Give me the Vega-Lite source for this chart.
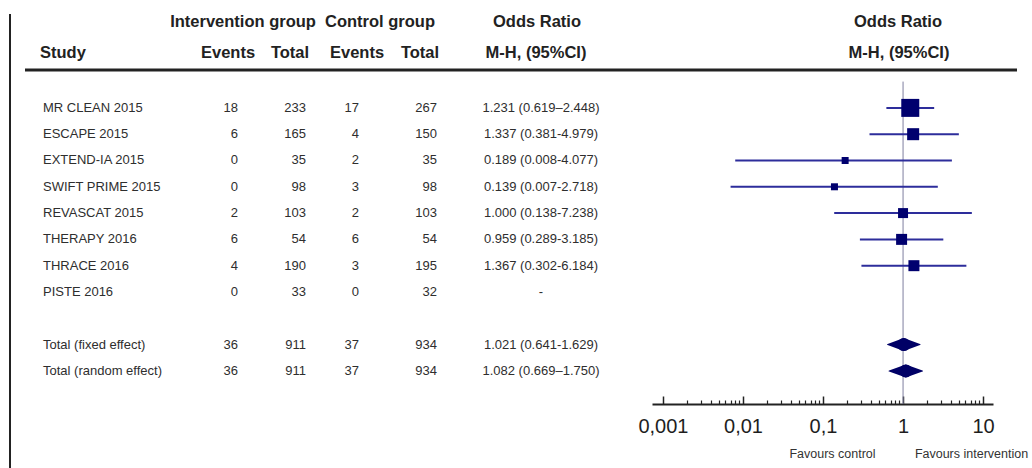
{
  "$schema": "https://vega.github.io/schema/vega-lite/v6.json",
  "width": 1032,
  "height": 404,
  "autosize": {"type": "none"},
  "padding": {"left": 0, "top": 0, "right": 0, "bottom": 64},
  "background": "white",
  "config": {
    "view": {"stroke": null},
    "axis": {"grid": false},
    "font": "Liberation Sans",
    "text": {"font": "Liberation Sans"}
  },
  "datasets": {
    "studies": [
      {"study": "MR CLEAN 2015", "ie": 18, "it": 233, "ce": 17, "ct": 267, "ci": "1.231 (0.619–2.448)", "or": 1.231, "lo": 0.619, "hi": 2.448, "w": 35.7, "kind": "study"},
      {"study": "ESCAPE 2015", "ie": 6, "it": 165, "ce": 4, "ct": 150, "ci": "1.337 (0.381-4.979)", "or": 1.337, "lo": 0.381, "hi": 4.979, "w": 15.9, "kind": "study"},
      {"study": "EXTEND-IA 2015", "ie": 0, "it": 35, "ce": 2, "ct": 35, "ci": "0.189 (0.008-4.077)", "or": 0.189, "lo": 0.008, "hi": 4.077, "w": 5.4, "kind": "study"},
      {"study": "SWIFT PRIME 2015", "ie": 0, "it": 98, "ce": 3, "ct": 98, "ci": "0.139 (0.007-2.718)", "or": 0.139, "lo": 0.007, "hi": 2.718, "w": 5.4, "kind": "study"},
      {"study": "REVASCAT 2015", "ie": 2, "it": 103, "ce": 2, "ct": 103, "ci": "1.000 (0.138-7.238)", "or": 1.0, "lo": 0.138, "hi": 7.238, "w": 11.0, "kind": "study"},
      {"study": "THERAPY 2016", "ie": 6, "it": 54, "ce": 6, "ct": 54, "ci": "0.959 (0.289-3.185)", "or": 0.959, "lo": 0.289, "hi": 3.185, "w": 13.3, "kind": "study"},
      {"study": "THRACE 2016", "ie": 4, "it": 190, "ce": 3, "ct": 195, "ci": "1.367 (0.302-6.184)", "or": 1.367, "lo": 0.302, "hi": 6.184, "w": 13.3, "kind": "study"},
      {"study": "PISTE 2016", "ie": 0, "it": 33, "ce": 0, "ct": 32, "ci": "-", "or": null, "lo": null, "hi": null, "w": null, "kind": "study"},
      {"study": "Total (fixed effect)", "ie": 36, "it": 911, "ce": 37, "ct": 934, "ci": "1.021 (0.641-1.629)", "or": 1.021, "lo": 0.641, "hi": 1.629, "w": null, "kind": "total"},
      {"study": "Total (random effect)", "ie": 36, "it": 911, "ce": 37, "ct": 934, "ci": "1.082 (0.669–1.750)", "or": 1.082, "lo": 0.669, "hi": 1.75, "w": null, "kind": "total"}
    ]
  },
  "layer": [
    {
      "data": {"name": "studies"},
      "layer": [
        {
          "layer": [
            {"mark": {"type": "text", "align": "left", "baseline": "middle", "fontSize": 13, "color": "#2e2e2e"},
             "encoding": {"x": {"datum": 43, "type": "quantitative", "scale": {"domain": [0, 1032], "range": [0, 1032], "nice": false, "zero": false}, "axis": null},
                          "y": {"field": "study", "type": "nominal", "axis": null, "scale": {"type": "point", "domain": ["_top", "MR CLEAN 2015", "ESCAPE 2015", "EXTEND-IA 2015", "SWIFT PRIME 2015", "REVASCAT 2015", "THERAPY 2016", "THRACE 2016", "PISTE 2016", "_gap", "Total (fixed effect)", "Total (random effect)"], "range": [75, 404], "padding": 0.755, "align": 0.166, "round": false}},
                          "text": {"field": "study"}}},
            {"mark": {"type": "text", "align": "right", "baseline": "middle", "fontSize": 13, "color": "#2e2e2e"},
             "encoding": {"x": {"datum": 238, "type": "quantitative", "axis": null}, "y": {"field": "study", "type": "nominal", "axis": null}, "text": {"field": "ie"}}},
            {"mark": {"type": "text", "align": "right", "baseline": "middle", "fontSize": 13, "color": "#2e2e2e"},
             "encoding": {"x": {"datum": 306, "type": "quantitative", "axis": null}, "y": {"field": "study", "type": "nominal", "axis": null}, "text": {"field": "it"}}},
            {"mark": {"type": "text", "align": "right", "baseline": "middle", "fontSize": 13, "color": "#2e2e2e"},
             "encoding": {"x": {"datum": 359, "type": "quantitative", "axis": null}, "y": {"field": "study", "type": "nominal", "axis": null}, "text": {"field": "ce"}}},
            {"mark": {"type": "text", "align": "right", "baseline": "middle", "fontSize": 13, "color": "#2e2e2e"},
             "encoding": {"x": {"datum": 437, "type": "quantitative", "axis": null}, "y": {"field": "study", "type": "nominal", "axis": null}, "text": {"field": "ct"}}},
            {"mark": {"type": "text", "align": "center", "baseline": "middle", "fontSize": 13, "color": "#2e2e2e"},
             "encoding": {"x": {"datum": 541, "type": "quantitative", "axis": null}, "y": {"field": "study", "type": "nominal", "axis": null}, "text": {"field": "ci"}}}
          ]
        },
        {
          "layer": [
            {"data": {"values": [{"ref": 1}]},
             "mark": {"type": "rule", "color": "#7f7f9f", "strokeWidth": 1},
             "encoding": {"x": {"field": "ref", "type": "quantitative", "scale": {"type": "log", "domain": [0.00073, 13.3], "range": [652, 993], "nice": false},
                                "axis": {"orient": "top", "offset": -404, "values": [0.002, 0.003, 0.004, 0.005, 0.006, 0.007, 0.008, 0.009, 0.02, 0.03, 0.04, 0.05, 0.06, 0.07, 0.08, 0.09, 0.2, 0.3, 0.4, 0.5, 0.6, 0.7, 0.8, 0.9, 2, 3, 4, 5, 6, 7, 8, 9], "tickSize": 4, "tickWidth": 1.2, "tickColor": "#222222", "labels": false, "domain": false, "title": "Favours intervention", "titleX": 971, "titleY": 49, "titleAlign": "center", "titleBaseline": "middle", "titleFontSize": 12.5, "titleFontWeight": "normal", "titleColor": "#333333", "titleFont": "Liberation Sans"}},
                          "y": {"datum": "_top", "type": "nominal", "axis": null},
                          "y2": {"value": "height"}}},
            {"transform": [{"filter": "isValid(datum.lo)"}, {"filter": "datum.kind == 'study'"}],
             "mark": {"type": "rule", "color": "#2d2d9b", "strokeWidth": 2},
             "encoding": {"x": {"field": "lo", "type": "quantitative",
                                "axis": {"orient": "bottom", "values": [0.001, 0.01, 0.1, 1, 10], "labelExpr": "replace(format(datum.value, '~g'), '.', ',')", "ticks": false, "tickSize": 0, "domainColor": "#222222", "domainWidth": 2, "labelFontSize": 20, "labelFont": "Liberation Sans", "labelColor": "#1e1e1e", "labelPadding": 12, "labelFlush": false, "labelOverlap": false, "title": "Favours control", "titleX": 832, "titleY": 49, "titleAlign": "center", "titleBaseline": "middle", "titleFontSize": 12.5, "titleFontWeight": "normal", "titleColor": "#333333", "titleFont": "Liberation Sans"}},
                          "x2": {"field": "hi"},
                          "y": {"field": "study", "type": "nominal", "axis": null}}},
            {"transform": [{"filter": "isValid(datum.or) && datum.kind == 'study'"}],
             "mark": {"type": "point", "shape": "square", "filled": true, "opacity": 1, "color": "#00006e"},
             "encoding": {"x": {"field": "or", "type": "quantitative",
                                "axis": {"orient": "top", "offset": -404, "values": [0.001, 0.01, 0.1, 1, 10], "tickSize": 8, "tickWidth": 1.5, "tickColor": "#222222", "labels": false, "domain": false, "title": null}},
                          "y": {"field": "study", "type": "nominal",
                                "axis": {"orient": "left", "offset": -652, "domain": true, "domainColor": "#222222", "domainWidth": 2, "ticks": false, "labels": false, "title": null}},
                          "size": {"field": "w", "type": "quantitative", "scale": {"domain": [0, 40], "range": [0, 363]}, "legend": null}}},
            {"transform": [{"filter": "datum.kind == 'total'"}, {"fold": ["lo", "or"], "as": ["k", "v"]}],
             "mark": {"type": "trail", "color": "#000066"},
             "encoding": {"x": {"field": "v", "type": "quantitative", "axis": null},
                          "y": {"field": "study", "type": "nominal", "axis": null},
                          "detail": {"field": "study"},
                          "size": {"field": "k", "type": "nominal", "scale": {"type": "point", "domain": ["lo", "or"], "range": [0, 13], "padding": 0}, "legend": null}}},
            {"transform": [{"filter": "datum.kind == 'total'"}, {"fold": ["or", "hi"], "as": ["k", "v"]}],
             "mark": {"type": "trail", "color": "#000066"},
             "encoding": {"x": {"field": "v", "type": "quantitative", "axis": null},
                          "y": {"field": "study", "type": "nominal", "axis": null},
                          "detail": {"field": "study"},
                          "size": {"field": "k", "type": "nominal", "scale": {"type": "point", "domain": ["hi", "or"], "range": [0, 13], "padding": 0}, "legend": null}}}
          ],
          "resolve": {"axis": {"x": "independent"}, "scale": {"size": "independent"}}
        }
      ],
      "resolve": {"scale": {"x": "independent"}, "axis": {"y": "independent"}}
    },
    {
      "layer": [
        {"data": {"values": [{}]},
         "mark": {"type": "rule", "color": "#222222", "strokeWidth": 2},
         "encoding": {"x": {"datum": 10, "type": "quantitative", "scale": {"domain": [0, 1032], "range": [0, 1032], "nice": false, "zero": false}, "axis": null},
                      "y": {"datum": 14, "type": "quantitative", "scale": {"domain": [0, 404], "range": [0, 404], "nice": false, "zero": false}, "axis": null},
                      "y2": {"datum": 468}}},
        {"data": {"values": [{}]},
         "mark": {"type": "rule", "color": "#222222", "strokeWidth": 3},
         "encoding": {"x": {"datum": 25, "type": "quantitative", "axis": null}, "x2": {"datum": 1017}, "y": {"datum": 70, "type": "quantitative", "axis": null}}},
        {"data": {"values": [{"label": "Intervention group"}]},
         "mark": {"type": "text", "align": "center", "baseline": "middle", "fontSize": 16.5, "fontWeight": "bold", "color": "#222222"},
         "encoding": {"x": {"datum": 243, "type": "quantitative", "axis": null}, "y": {"datum": 22, "type": "quantitative", "axis": null}, "text": {"field": "label"}}},
        {"data": {"values": [{"label": "Control group"}]},
         "mark": {"type": "text", "align": "center", "baseline": "middle", "fontSize": 16.5, "fontWeight": "bold", "color": "#222222"},
         "encoding": {"x": {"datum": 380, "type": "quantitative", "axis": null}, "y": {"datum": 22, "type": "quantitative", "axis": null}, "text": {"field": "label"}}},
        {"data": {"values": [{"label": "Odds Ratio"}]},
         "mark": {"type": "text", "align": "center", "baseline": "middle", "fontSize": 16.5, "fontWeight": "bold", "color": "#222222"},
         "encoding": {"x": {"datum": 537, "type": "quantitative", "axis": null}, "y": {"datum": 22, "type": "quantitative", "axis": null}, "text": {"field": "label"}}},
        {"data": {"values": [{"label": "Odds Ratio"}]},
         "mark": {"type": "text", "align": "center", "baseline": "middle", "fontSize": 16.5, "fontWeight": "bold", "color": "#222222"},
         "encoding": {"x": {"datum": 898, "type": "quantitative", "axis": null}, "y": {"datum": 22, "type": "quantitative", "axis": null}, "text": {"field": "label"}}},
        {"data": {"values": [{"label": "Study"}]},
         "mark": {"type": "text", "align": "left", "baseline": "middle", "fontSize": 16.5, "fontWeight": "bold", "color": "#222222"},
         "encoding": {"x": {"datum": 40, "type": "quantitative", "axis": null}, "y": {"datum": 53, "type": "quantitative", "axis": null}, "text": {"field": "label"}}},
        {"data": {"values": [{"label": "Events"}]},
         "mark": {"type": "text", "align": "center", "baseline": "middle", "fontSize": 16.5, "fontWeight": "bold", "color": "#222222"},
         "encoding": {"x": {"datum": 228, "type": "quantitative", "axis": null}, "y": {"datum": 53, "type": "quantitative", "axis": null}, "text": {"field": "label"}}},
        {"data": {"values": [{"label": "Total"}]},
         "mark": {"type": "text", "align": "center", "baseline": "middle", "fontSize": 16.5, "fontWeight": "bold", "color": "#222222"},
         "encoding": {"x": {"datum": 290, "type": "quantitative", "axis": null}, "y": {"datum": 53, "type": "quantitative", "axis": null}, "text": {"field": "label"}}},
        {"data": {"values": [{"label": "Events"}]},
         "mark": {"type": "text", "align": "center", "baseline": "middle", "fontSize": 16.5, "fontWeight": "bold", "color": "#222222"},
         "encoding": {"x": {"datum": 357, "type": "quantitative", "axis": null}, "y": {"datum": 53, "type": "quantitative", "axis": null}, "text": {"field": "label"}}},
        {"data": {"values": [{"label": "Total"}]},
         "mark": {"type": "text", "align": "center", "baseline": "middle", "fontSize": 16.5, "fontWeight": "bold", "color": "#222222"},
         "encoding": {"x": {"datum": 420, "type": "quantitative", "axis": null}, "y": {"datum": 53, "type": "quantitative", "axis": null}, "text": {"field": "label"}}},
        {"data": {"values": [{"label": "M-H, (95%CI)"}]},
         "mark": {"type": "text", "align": "center", "baseline": "middle", "fontSize": 16.5, "fontWeight": "bold", "color": "#222222"},
         "encoding": {"x": {"datum": 536, "type": "quantitative", "axis": null}, "y": {"datum": 53, "type": "quantitative", "axis": null}, "text": {"field": "label"}}},
        {"data": {"values": [{"label": "M-H, (95%CI)"}]},
         "mark": {"type": "text", "align": "center", "baseline": "middle", "fontSize": 16.5, "fontWeight": "bold", "color": "#222222"},
         "encoding": {"x": {"datum": 899, "type": "quantitative", "axis": null}, "y": {"datum": 53, "type": "quantitative", "axis": null}, "text": {"field": "label"}}}
      ]
    }
  ],
  "resolve": {"scale": {"x": "independent", "y": "independent"}}
}
